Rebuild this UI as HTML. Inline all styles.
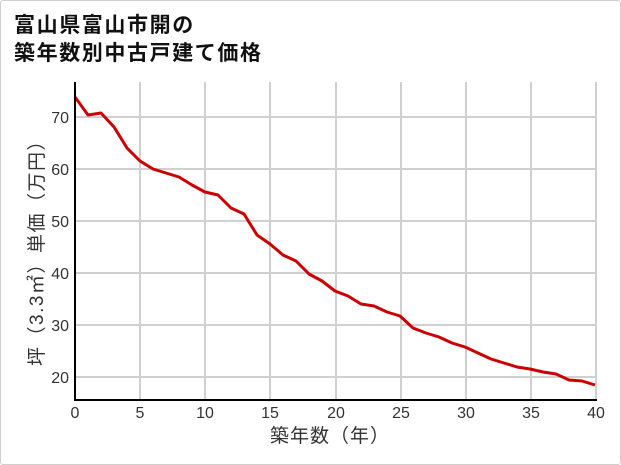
<!DOCTYPE html>
<html><head><meta charset="utf-8"><style>
body{margin:0;background:#fff}
.wrap{position:relative;width:619px;height:463px;border:1px solid #cfcfcf;border-radius:3px;overflow:hidden;background:#fff}
.t{position:absolute;left:13px;font:bold 21px "Liberation Sans","Noto Sans CJK JP",sans-serif;color:#111;white-space:nowrap;letter-spacing:1.6px}
</style></head><body><div class="wrap">
<div class="t" style="top:8px">富山県富山市開の</div>
<div class="t" style="top:36px">築年数別中古戸建て価格</div>
<svg width="621" height="465" style="position:absolute;left:-1px;top:-1px" font-family="Liberation Sans, Noto Sans CJK JP, sans-serif">
<g stroke="#d0d0d0" stroke-width="2">
<line x1="75" y1="117" x2="596" y2="117"/><line x1="75" y1="169" x2="596" y2="169"/><line x1="75" y1="221" x2="596" y2="221"/><line x1="75" y1="273" x2="596" y2="273"/><line x1="75" y1="325" x2="596" y2="325"/><line x1="75" y1="377" x2="596" y2="377"/>
<line x1="140" y1="82" x2="140" y2="400"/><line x1="205" y1="82" x2="205" y2="400"/><line x1="270" y1="82" x2="270" y2="400"/><line x1="336" y1="82" x2="336" y2="400"/><line x1="401" y1="82" x2="401" y2="400"/><line x1="466" y1="82" x2="466" y2="400"/><line x1="531" y1="82" x2="531" y2="400"/><line x1="596" y1="82" x2="596" y2="400"/>
</g>
<polyline fill="none" stroke="#cc0000" stroke-width="3" stroke-linejoin="round" points="75,97 88,115 101,113 114,127 127,148 140,161 153,169 166,173 179,177 192,185 205,192 218,195 231,208 244,214 257,235 270,244 283,255 296,261 309,274 322,281 335,291 348,296 361,304 374,306 387,312 400,316 413,328 426,333 439,337 452,343 465,347 478,353 491,359 504,363 517,367 530,369 543,372 556,374 569,380 582,381 595,385"/>
<line x1="75" y1="82" x2="75" y2="401" stroke="#000" stroke-width="2"/>
<line x1="74" y1="400" x2="597" y2="400" stroke="#000" stroke-width="2"/>
<g font-size="16" fill="#333" text-anchor="end">
<text x="69" y="123">70</text><text x="69" y="175">60</text><text x="69" y="227">50</text><text x="69" y="279">40</text><text x="69" y="331">30</text><text x="69" y="383">20</text>
</g>
<g font-size="16" fill="#333" text-anchor="middle">
<text x="75" y="418">0</text><text x="140" y="418">5</text><text x="205" y="418">10</text><text x="270" y="418">15</text><text x="336" y="418">20</text><text x="401" y="418">25</text><text x="466" y="418">30</text><text x="531" y="418">35</text><text x="596" y="418">40</text>
</g>
<text x="330" y="442" font-size="19" fill="#333" text-anchor="middle" letter-spacing="1">築年数（年）</text>
<text transform="translate(43,248) rotate(-90)" font-size="19" fill="#333" text-anchor="middle" letter-spacing="1.5">坪（3.3㎡）単価（万円）</text>
</svg></div></body></html>
